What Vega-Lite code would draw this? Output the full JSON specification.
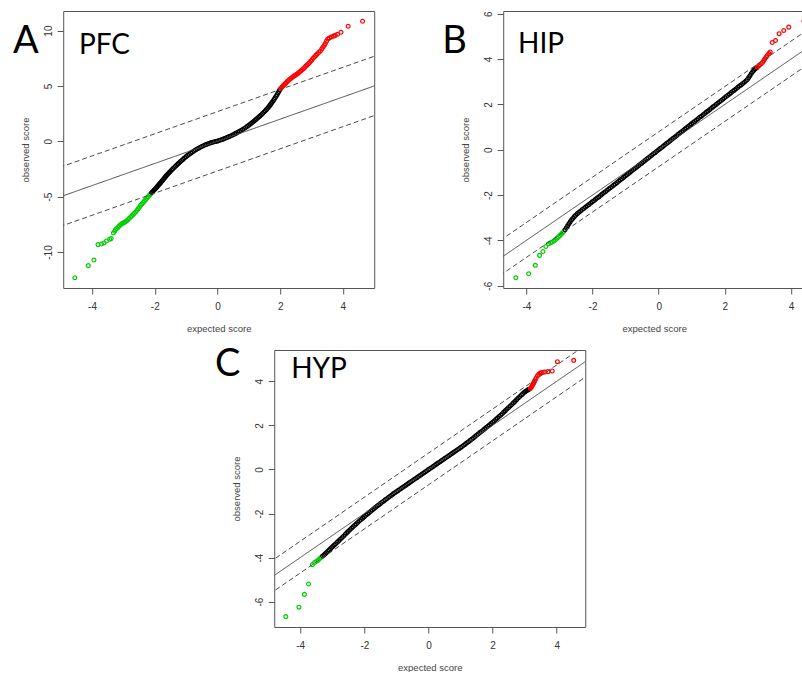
{
  "$schema": "https://vega.github.io/schema/vega-lite/v6.json",
  "background": "white",
  "padding": {"left": 12, "top": 10, "right": 0, "bottom": 0},
  "spacing": 16,
  "center": true,
  "title": {"text": "C", "anchor": "start", "frame": "group", "orient": "top", "offset": 0, "baseline": "alphabetic", "align": "left", "dx": 152, "dy": 404, "font": "Lato", "fontSize": 38, "fontWeight": "normal", "color": "#000000"},
  "datasets": {
    "pfc_lines": [
      {"expected": -6, "observed": -6, "line": "fit"}, {"expected": 6, "observed": 6, "line": "fit"},
      {"expected": -6, "observed": -3.32, "line": "upper"}, {"expected": 6, "observed": 8.68, "line": "upper"},
      {"expected": -6, "observed": -8.68, "line": "lower"}, {"expected": 6, "observed": 3.32, "line": "lower"}
    ],
    "hip_lines": [
      {"expected": -6, "observed": -6, "line": "fit"}, {"expected": 6, "observed": 6, "line": "fit"},
      {"expected": -6, "observed": -5.21, "line": "upper"}, {"expected": 6, "observed": 6.79, "line": "upper"},
      {"expected": -6, "observed": -6.75, "line": "lower"}, {"expected": 6, "observed": 5.25, "line": "lower"}
    ],
    "hyp_lines": [
      {"expected": -6, "observed": -6, "line": "fit"}, {"expected": 6, "observed": 6, "line": "fit"},
      {"expected": -6, "observed": -5.26, "line": "upper"}, {"expected": 6, "observed": 6.74, "line": "upper"},
      {"expected": -6, "observed": -6.7, "line": "lower"}, {"expected": 6, "observed": 5.3, "line": "lower"}
    ],
    "pfc_points": [
      {"expected": -4.55, "observed": -12.32, "tail": "low"},
      {"expected": -4.12, "observed": -11.23, "tail": "low"},
      {"expected": -3.94, "observed": -10.72, "tail": "low"},
      {"expected": -3.81, "observed": -9.33, "tail": "low"},
      {"expected": -3.70, "observed": -9.28, "tail": "low"},
      {"expected": -3.62, "observed": -9.18, "tail": "low"},
      {"expected": -3.54, "observed": -9.00, "tail": "low"},
      {"expected": -3.44, "observed": -8.85, "tail": "low"},
      {"expected": -3.39, "observed": -8.79, "tail": "low"},
      {"expected": -3.32, "observed": -8.28, "tail": "low"},
      {"expected": -3.28, "observed": -8.12, "tail": "low"},
      {"expected": -3.25, "observed": -7.98, "tail": "low"},
      {"expected": -3.21, "observed": -7.87, "tail": "low"},
      {"expected": -3.17, "observed": -7.76, "tail": "low"},
      {"expected": -3.13, "observed": -7.64, "tail": "low"},
      {"expected": -3.09, "observed": -7.53, "tail": "low"},
      {"expected": -3.05, "observed": -7.45, "tail": "low"},
      {"expected": -3.01, "observed": -7.38, "tail": "low"},
      {"expected": -2.97, "observed": -7.32, "tail": "low"},
      {"expected": -2.93, "observed": -7.27, "tail": "low"},
      {"expected": -2.89, "observed": -7.17, "tail": "low"},
      {"expected": -2.85, "observed": -7.06, "tail": "low"},
      {"expected": -2.81, "observed": -6.95, "tail": "low"},
      {"expected": -2.77, "observed": -6.84, "tail": "low"},
      {"expected": -2.73, "observed": -6.72, "tail": "low"},
      {"expected": -2.69, "observed": -6.61, "tail": "low"},
      {"expected": -2.65, "observed": -6.50, "tail": "low"},
      {"expected": -2.61, "observed": -6.39, "tail": "low"},
      {"expected": -2.57, "observed": -6.25, "tail": "low"},
      {"expected": -2.53, "observed": -6.10, "tail": "low"},
      {"expected": -2.49, "observed": -5.95, "tail": "low"},
      {"expected": -2.45, "observed": -5.79, "tail": "low"},
      {"expected": -2.41, "observed": -5.66, "tail": "low"},
      {"expected": -2.37, "observed": -5.53, "tail": "low"},
      {"expected": -2.33, "observed": -5.40, "tail": "low"},
      {"expected": -2.29, "observed": -5.27, "tail": "low"},
      {"expected": -2.25, "observed": -5.13, "tail": "low"},
      {"expected": -2.21, "observed": -5.00, "tail": "low"},
      {"expected": -2.17, "observed": -4.87, "tail": "low"},
      {"expected": -2.14, "observed": -4.77, "tail": "low"},
      {"expected": -2.10, "observed": -4.65, "tail": "mid"},
      {"expected": -2.07, "observed": -4.55, "tail": "mid"},
      {"expected": -2.04, "observed": -4.46, "tail": "mid"},
      {"expected": -2.01, "observed": -4.38, "tail": "mid"},
      {"expected": -1.98, "observed": -4.28, "tail": "mid"},
      {"expected": -1.95, "observed": -4.19, "tail": "mid"},
      {"expected": -1.92, "observed": -4.09, "tail": "mid"},
      {"expected": -1.89, "observed": -3.99, "tail": "mid"},
      {"expected": -1.86, "observed": -3.89, "tail": "mid"},
      {"expected": -1.83, "observed": -3.80, "tail": "mid"},
      {"expected": -1.80, "observed": -3.70, "tail": "mid"},
      {"expected": -1.77, "observed": -3.59, "tail": "mid"},
      {"expected": -1.74, "observed": -3.49, "tail": "mid"},
      {"expected": -1.71, "observed": -3.38, "tail": "mid"},
      {"expected": -1.68, "observed": -3.28, "tail": "mid"},
      {"expected": -1.65, "observed": -3.17, "tail": "mid"},
      {"expected": -1.62, "observed": -3.07, "tail": "mid"},
      {"expected": -1.59, "observed": -2.98, "tail": "mid"},
      {"expected": -1.56, "observed": -2.89, "tail": "mid"},
      {"expected": -1.53, "observed": -2.80, "tail": "mid"},
      {"expected": -1.50, "observed": -2.71, "tail": "mid"},
      {"expected": -1.46, "observed": -2.59, "tail": "mid"},
      {"expected": -1.42, "observed": -2.47, "tail": "mid"},
      {"expected": -1.38, "observed": -2.36, "tail": "mid"},
      {"expected": -1.34, "observed": -2.26, "tail": "mid"},
      {"expected": -1.30, "observed": -2.15, "tail": "mid"},
      {"expected": -1.26, "observed": -2.04, "tail": "mid"},
      {"expected": -1.22, "observed": -1.93, "tail": "mid"},
      {"expected": -1.18, "observed": -1.83, "tail": "mid"},
      {"expected": -1.14, "observed": -1.73, "tail": "mid"},
      {"expected": -1.10, "observed": -1.63, "tail": "mid"},
      {"expected": -1.05, "observed": -1.50, "tail": "mid"},
      {"expected": -1.00, "observed": -1.38, "tail": "mid"},
      {"expected": -0.95, "observed": -1.27, "tail": "mid"},
      {"expected": -0.90, "observed": -1.17, "tail": "mid"},
      {"expected": -0.85, "observed": -1.07, "tail": "mid"},
      {"expected": -0.80, "observed": -0.97, "tail": "mid"},
      {"expected": -0.75, "observed": -0.88, "tail": "mid"},
      {"expected": -0.70, "observed": -0.79, "tail": "mid"},
      {"expected": -0.65, "observed": -0.70, "tail": "mid"},
      {"expected": -0.60, "observed": -0.62, "tail": "mid"},
      {"expected": -0.55, "observed": -0.54, "tail": "mid"},
      {"expected": -0.50, "observed": -0.47, "tail": "mid"},
      {"expected": -0.45, "observed": -0.40, "tail": "mid"},
      {"expected": -0.40, "observed": -0.33, "tail": "mid"},
      {"expected": -0.35, "observed": -0.28, "tail": "mid"},
      {"expected": -0.30, "observed": -0.22, "tail": "mid"},
      {"expected": -0.25, "observed": -0.17, "tail": "mid"},
      {"expected": -0.20, "observed": -0.12, "tail": "mid"},
      {"expected": -0.15, "observed": -0.08, "tail": "mid"},
      {"expected": -0.10, "observed": -0.04, "tail": "mid"},
      {"expected": -0.05, "observed": -0.01, "tail": "mid"},
      {"expected": 0.00, "observed": 0.02, "tail": "mid"},
      {"expected": 0.05, "observed": 0.07, "tail": "mid"},
      {"expected": 0.10, "observed": 0.12, "tail": "mid"},
      {"expected": 0.15, "observed": 0.17, "tail": "mid"},
      {"expected": 0.20, "observed": 0.22, "tail": "mid"},
      {"expected": 0.25, "observed": 0.28, "tail": "mid"},
      {"expected": 0.30, "observed": 0.34, "tail": "mid"},
      {"expected": 0.35, "observed": 0.40, "tail": "mid"},
      {"expected": 0.40, "observed": 0.46, "tail": "mid"},
      {"expected": 0.45, "observed": 0.53, "tail": "mid"},
      {"expected": 0.50, "observed": 0.60, "tail": "mid"},
      {"expected": 0.55, "observed": 0.67, "tail": "mid"},
      {"expected": 0.60, "observed": 0.74, "tail": "mid"},
      {"expected": 0.65, "observed": 0.82, "tail": "mid"},
      {"expected": 0.70, "observed": 0.90, "tail": "mid"},
      {"expected": 0.75, "observed": 0.98, "tail": "mid"},
      {"expected": 0.80, "observed": 1.06, "tail": "mid"},
      {"expected": 0.85, "observed": 1.15, "tail": "mid"},
      {"expected": 0.90, "observed": 1.25, "tail": "mid"},
      {"expected": 0.95, "observed": 1.35, "tail": "mid"},
      {"expected": 1.00, "observed": 1.45, "tail": "mid"},
      {"expected": 1.04, "observed": 1.54, "tail": "mid"},
      {"expected": 1.08, "observed": 1.63, "tail": "mid"},
      {"expected": 1.12, "observed": 1.72, "tail": "mid"},
      {"expected": 1.16, "observed": 1.81, "tail": "mid"},
      {"expected": 1.20, "observed": 1.90, "tail": "mid"},
      {"expected": 1.24, "observed": 2.00, "tail": "mid"},
      {"expected": 1.28, "observed": 2.10, "tail": "mid"},
      {"expected": 1.32, "observed": 2.20, "tail": "mid"},
      {"expected": 1.36, "observed": 2.30, "tail": "mid"},
      {"expected": 1.40, "observed": 2.40, "tail": "mid"},
      {"expected": 1.44, "observed": 2.51, "tail": "mid"},
      {"expected": 1.48, "observed": 2.62, "tail": "mid"},
      {"expected": 1.52, "observed": 2.74, "tail": "mid"},
      {"expected": 1.56, "observed": 2.86, "tail": "mid"},
      {"expected": 1.60, "observed": 2.98, "tail": "mid"},
      {"expected": 1.63, "observed": 3.09, "tail": "mid"},
      {"expected": 1.66, "observed": 3.20, "tail": "mid"},
      {"expected": 1.69, "observed": 3.31, "tail": "mid"},
      {"expected": 1.72, "observed": 3.43, "tail": "mid"},
      {"expected": 1.75, "observed": 3.55, "tail": "mid"},
      {"expected": 1.78, "observed": 3.67, "tail": "mid"},
      {"expected": 1.81, "observed": 3.80, "tail": "mid"},
      {"expected": 1.84, "observed": 3.93, "tail": "mid"},
      {"expected": 1.87, "observed": 4.07, "tail": "mid"},
      {"expected": 1.90, "observed": 4.21, "tail": "mid"},
      {"expected": 1.93, "observed": 4.36, "tail": "mid"},
      {"expected": 1.96, "observed": 4.51, "tail": "mid"},
      {"expected": 1.99, "observed": 4.66, "tail": "mid"},
      {"expected": 2.02, "observed": 4.78, "tail": "high"},
      {"expected": 2.05, "observed": 4.88, "tail": "high"},
      {"expected": 2.08, "observed": 4.97, "tail": "high"},
      {"expected": 2.11, "observed": 5.06, "tail": "high"},
      {"expected": 2.14, "observed": 5.14, "tail": "high"},
      {"expected": 2.17, "observed": 5.22, "tail": "high"},
      {"expected": 2.20, "observed": 5.31, "tail": "high"},
      {"expected": 2.23, "observed": 5.40, "tail": "high"},
      {"expected": 2.26, "observed": 5.49, "tail": "high"},
      {"expected": 2.30, "observed": 5.58, "tail": "high"},
      {"expected": 2.34, "observed": 5.67, "tail": "high"},
      {"expected": 2.38, "observed": 5.76, "tail": "high"},
      {"expected": 2.42, "observed": 5.85, "tail": "high"},
      {"expected": 2.46, "observed": 5.93, "tail": "high"},
      {"expected": 2.50, "observed": 6.00, "tail": "high"},
      {"expected": 2.54, "observed": 6.08, "tail": "high"},
      {"expected": 2.58, "observed": 6.16, "tail": "high"},
      {"expected": 2.62, "observed": 6.26, "tail": "high"},
      {"expected": 2.66, "observed": 6.36, "tail": "high"},
      {"expected": 2.70, "observed": 6.46, "tail": "high"},
      {"expected": 2.74, "observed": 6.56, "tail": "high"},
      {"expected": 2.78, "observed": 6.67, "tail": "high"},
      {"expected": 2.82, "observed": 6.79, "tail": "high"},
      {"expected": 2.86, "observed": 6.90, "tail": "high"},
      {"expected": 2.90, "observed": 7.01, "tail": "high"},
      {"expected": 2.94, "observed": 7.12, "tail": "high"},
      {"expected": 2.98, "observed": 7.25, "tail": "high"},
      {"expected": 3.02, "observed": 7.38, "tail": "high"},
      {"expected": 3.06, "observed": 7.52, "tail": "high"},
      {"expected": 3.10, "observed": 7.64, "tail": "high"},
      {"expected": 3.14, "observed": 7.76, "tail": "high"},
      {"expected": 3.18, "observed": 7.88, "tail": "high"},
      {"expected": 3.23, "observed": 8.02, "tail": "high"},
      {"expected": 3.28, "observed": 8.16, "tail": "high"},
      {"expected": 3.33, "observed": 8.35, "tail": "high"},
      {"expected": 3.37, "observed": 8.52, "tail": "high"},
      {"expected": 3.41, "observed": 8.68, "tail": "high"},
      {"expected": 3.44, "observed": 8.84, "tail": "high"},
      {"expected": 3.48, "observed": 9.05, "tail": "high"},
      {"expected": 3.52, "observed": 9.24, "tail": "high"},
      {"expected": 3.57, "observed": 9.33, "tail": "high"},
      {"expected": 3.63, "observed": 9.42, "tail": "high"},
      {"expected": 3.70, "observed": 9.50, "tail": "high"},
      {"expected": 3.76, "observed": 9.57, "tail": "high"},
      {"expected": 3.83, "observed": 9.67, "tail": "high"},
      {"expected": 3.94, "observed": 9.85, "tail": "high"},
      {"expected": 4.17, "observed": 10.39, "tail": "high"},
      {"expected": 4.63, "observed": 10.84, "tail": "high"}
    ],
    "hip_points": [
      {"expected": -4.32, "observed": -5.65, "tail": "low"},
      {"expected": -3.93, "observed": -5.47, "tail": "low"},
      {"expected": -3.73, "observed": -5.10, "tail": "low"},
      {"expected": -3.60, "observed": -4.66, "tail": "low"},
      {"expected": -3.50, "observed": -4.49, "tail": "low"},
      {"expected": -3.41, "observed": -4.27, "tail": "low"},
      {"expected": -3.33, "observed": -4.15, "tail": "low"},
      {"expected": -3.27, "observed": -4.10, "tail": "low"},
      {"expected": -3.22, "observed": -4.07, "tail": "low"},
      {"expected": -3.17, "observed": -4.03, "tail": "low"},
      {"expected": -3.12, "observed": -3.97, "tail": "low"},
      {"expected": -3.07, "observed": -3.90, "tail": "low"},
      {"expected": -3.03, "observed": -3.85, "tail": "low"},
      {"expected": -2.99, "observed": -3.79, "tail": "low"},
      {"expected": -2.95, "observed": -3.73, "tail": "low"},
      {"expected": -2.91, "observed": -3.67, "tail": "low"},
      {"expected": -2.87, "observed": -3.61, "tail": "low"},
      {"expected": -2.83, "observed": -3.53, "tail": "mid"},
      {"expected": -2.79, "observed": -3.44, "tail": "mid"},
      {"expected": -2.75, "observed": -3.35, "tail": "mid"},
      {"expected": -2.71, "observed": -3.26, "tail": "mid"},
      {"expected": -2.67, "observed": -3.17, "tail": "mid"},
      {"expected": -2.63, "observed": -3.09, "tail": "mid"},
      {"expected": -2.59, "observed": -3.02, "tail": "mid"},
      {"expected": -2.55, "observed": -2.95, "tail": "mid"},
      {"expected": -2.51, "observed": -2.89, "tail": "mid"},
      {"expected": -2.46, "observed": -2.82, "tail": "mid"},
      {"expected": -2.41, "observed": -2.76, "tail": "mid"},
      {"expected": -2.36, "observed": -2.70, "tail": "mid"},
      {"expected": -2.31, "observed": -2.64, "tail": "mid"},
      {"expected": -2.26, "observed": -2.59, "tail": "mid"},
      {"expected": -2.21, "observed": -2.53, "tail": "mid"},
      {"expected": -2.16, "observed": -2.47, "tail": "mid"},
      {"expected": -2.11, "observed": -2.42, "tail": "mid"},
      {"expected": -2.06, "observed": -2.36, "tail": "mid"},
      {"expected": -2.01, "observed": -2.30, "tail": "mid"},
      {"expected": -1.96, "observed": -2.25, "tail": "mid"},
      {"expected": -1.91, "observed": -2.19, "tail": "mid"},
      {"expected": -1.86, "observed": -2.13, "tail": "mid"},
      {"expected": -1.81, "observed": -2.08, "tail": "mid"},
      {"expected": -1.76, "observed": -2.02, "tail": "mid"},
      {"expected": -1.71, "observed": -1.96, "tail": "mid"},
      {"expected": -1.66, "observed": -1.90, "tail": "mid"},
      {"expected": -1.61, "observed": -1.85, "tail": "mid"},
      {"expected": -1.56, "observed": -1.79, "tail": "mid"},
      {"expected": -1.51, "observed": -1.73, "tail": "mid"},
      {"expected": -1.46, "observed": -1.68, "tail": "mid"},
      {"expected": -1.41, "observed": -1.62, "tail": "mid"},
      {"expected": -1.36, "observed": -1.56, "tail": "mid"},
      {"expected": -1.31, "observed": -1.51, "tail": "mid"},
      {"expected": -1.26, "observed": -1.45, "tail": "mid"},
      {"expected": -1.21, "observed": -1.39, "tail": "mid"},
      {"expected": -1.16, "observed": -1.33, "tail": "mid"},
      {"expected": -1.11, "observed": -1.28, "tail": "mid"},
      {"expected": -1.06, "observed": -1.22, "tail": "mid"},
      {"expected": -1.01, "observed": -1.16, "tail": "mid"},
      {"expected": -0.96, "observed": -1.10, "tail": "mid"},
      {"expected": -0.91, "observed": -1.05, "tail": "mid"},
      {"expected": -0.86, "observed": -0.99, "tail": "mid"},
      {"expected": -0.81, "observed": -0.93, "tail": "mid"},
      {"expected": -0.76, "observed": -0.87, "tail": "mid"},
      {"expected": -0.71, "observed": -0.82, "tail": "mid"},
      {"expected": -0.66, "observed": -0.76, "tail": "mid"},
      {"expected": -0.61, "observed": -0.70, "tail": "mid"},
      {"expected": -0.56, "observed": -0.64, "tail": "mid"},
      {"expected": -0.51, "observed": -0.59, "tail": "mid"},
      {"expected": -0.46, "observed": -0.53, "tail": "mid"},
      {"expected": -0.41, "observed": -0.47, "tail": "mid"},
      {"expected": -0.36, "observed": -0.41, "tail": "mid"},
      {"expected": -0.31, "observed": -0.36, "tail": "mid"},
      {"expected": -0.26, "observed": -0.30, "tail": "mid"},
      {"expected": -0.21, "observed": -0.24, "tail": "mid"},
      {"expected": -0.16, "observed": -0.18, "tail": "mid"},
      {"expected": -0.11, "observed": -0.13, "tail": "mid"},
      {"expected": -0.06, "observed": -0.07, "tail": "mid"},
      {"expected": -0.01, "observed": -0.01, "tail": "mid"},
      {"expected": 0.04, "observed": 0.05, "tail": "mid"},
      {"expected": 0.09, "observed": 0.10, "tail": "mid"},
      {"expected": 0.14, "observed": 0.16, "tail": "mid"},
      {"expected": 0.19, "observed": 0.22, "tail": "mid"},
      {"expected": 0.24, "observed": 0.28, "tail": "mid"},
      {"expected": 0.29, "observed": 0.33, "tail": "mid"},
      {"expected": 0.34, "observed": 0.39, "tail": "mid"},
      {"expected": 0.39, "observed": 0.45, "tail": "mid"},
      {"expected": 0.44, "observed": 0.51, "tail": "mid"},
      {"expected": 0.49, "observed": 0.56, "tail": "mid"},
      {"expected": 0.54, "observed": 0.62, "tail": "mid"},
      {"expected": 0.59, "observed": 0.68, "tail": "mid"},
      {"expected": 0.64, "observed": 0.74, "tail": "mid"},
      {"expected": 0.69, "observed": 0.79, "tail": "mid"},
      {"expected": 0.74, "observed": 0.85, "tail": "mid"},
      {"expected": 0.79, "observed": 0.91, "tail": "mid"},
      {"expected": 0.84, "observed": 0.97, "tail": "mid"},
      {"expected": 0.89, "observed": 1.02, "tail": "mid"},
      {"expected": 0.94, "observed": 1.08, "tail": "mid"},
      {"expected": 0.99, "observed": 1.14, "tail": "mid"},
      {"expected": 1.04, "observed": 1.20, "tail": "mid"},
      {"expected": 1.09, "observed": 1.25, "tail": "mid"},
      {"expected": 1.14, "observed": 1.31, "tail": "mid"},
      {"expected": 1.19, "observed": 1.37, "tail": "mid"},
      {"expected": 1.24, "observed": 1.43, "tail": "mid"},
      {"expected": 1.29, "observed": 1.48, "tail": "mid"},
      {"expected": 1.34, "observed": 1.54, "tail": "mid"},
      {"expected": 1.39, "observed": 1.60, "tail": "mid"},
      {"expected": 1.44, "observed": 1.66, "tail": "mid"},
      {"expected": 1.49, "observed": 1.71, "tail": "mid"},
      {"expected": 1.54, "observed": 1.77, "tail": "mid"},
      {"expected": 1.59, "observed": 1.83, "tail": "mid"},
      {"expected": 1.64, "observed": 1.89, "tail": "mid"},
      {"expected": 1.69, "observed": 1.94, "tail": "mid"},
      {"expected": 1.74, "observed": 2.00, "tail": "mid"},
      {"expected": 1.79, "observed": 2.06, "tail": "mid"},
      {"expected": 1.84, "observed": 2.12, "tail": "mid"},
      {"expected": 1.89, "observed": 2.17, "tail": "mid"},
      {"expected": 1.94, "observed": 2.23, "tail": "mid"},
      {"expected": 1.99, "observed": 2.29, "tail": "mid"},
      {"expected": 2.04, "observed": 2.35, "tail": "mid"},
      {"expected": 2.09, "observed": 2.40, "tail": "mid"},
      {"expected": 2.14, "observed": 2.46, "tail": "mid"},
      {"expected": 2.19, "observed": 2.52, "tail": "mid"},
      {"expected": 2.24, "observed": 2.58, "tail": "mid"},
      {"expected": 2.29, "observed": 2.63, "tail": "mid"},
      {"expected": 2.34, "observed": 2.69, "tail": "mid"},
      {"expected": 2.39, "observed": 2.75, "tail": "mid"},
      {"expected": 2.44, "observed": 2.81, "tail": "mid"},
      {"expected": 2.49, "observed": 2.86, "tail": "mid"},
      {"expected": 2.54, "observed": 2.92, "tail": "mid"},
      {"expected": 2.59, "observed": 2.98, "tail": "mid"},
      {"expected": 2.64, "observed": 3.04, "tail": "mid"},
      {"expected": 2.68, "observed": 3.10, "tail": "mid"},
      {"expected": 2.72, "observed": 3.18, "tail": "mid"},
      {"expected": 2.76, "observed": 3.27, "tail": "mid"},
      {"expected": 2.80, "observed": 3.36, "tail": "mid"},
      {"expected": 2.84, "observed": 3.44, "tail": "mid"},
      {"expected": 2.88, "observed": 3.51, "tail": "mid"},
      {"expected": 2.92, "observed": 3.57, "tail": "mid"},
      {"expected": 2.95, "observed": 3.61, "tail": "mid"},
      {"expected": 2.98, "observed": 3.64, "tail": "high"},
      {"expected": 3.02, "observed": 3.70, "tail": "high"},
      {"expected": 3.06, "observed": 3.75, "tail": "high"},
      {"expected": 3.10, "observed": 3.80, "tail": "high"},
      {"expected": 3.14, "observed": 3.86, "tail": "high"},
      {"expected": 3.18, "observed": 3.94, "tail": "high"},
      {"expected": 3.21, "observed": 4.01, "tail": "high"},
      {"expected": 3.25, "observed": 4.09, "tail": "high"},
      {"expected": 3.28, "observed": 4.16, "tail": "high"},
      {"expected": 3.33, "observed": 4.24, "tail": "high"},
      {"expected": 3.37, "observed": 4.31, "tail": "high"},
      {"expected": 3.43, "observed": 4.73, "tail": "high"},
      {"expected": 3.53, "observed": 4.82, "tail": "high"},
      {"expected": 3.64, "observed": 5.12, "tail": "high"},
      {"expected": 3.78, "observed": 5.26, "tail": "high"},
      {"expected": 3.93, "observed": 5.41, "tail": "high"},
      {"expected": 4.39, "observed": 5.67, "tail": "high"}
    ],
    "hyp_points": [
      {"expected": -4.45, "observed": -6.68, "tail": "low"},
      {"expected": -4.04, "observed": -6.25, "tail": "low"},
      {"expected": -3.87, "observed": -5.67, "tail": "low"},
      {"expected": -3.74, "observed": -5.20, "tail": "low"},
      {"expected": -3.62, "observed": -4.32, "tail": "low"},
      {"expected": -3.55, "observed": -4.22, "tail": "low"},
      {"expected": -3.49, "observed": -4.17, "tail": "low"},
      {"expected": -3.44, "observed": -4.12, "tail": "low"},
      {"expected": -3.39, "observed": -4.04, "tail": "low"},
      {"expected": -3.34, "observed": -3.98, "tail": "low"},
      {"expected": -3.30, "observed": -3.93, "tail": "mid"},
      {"expected": -3.26, "observed": -3.88, "tail": "mid"},
      {"expected": -3.22, "observed": -3.83, "tail": "mid"},
      {"expected": -3.18, "observed": -3.77, "tail": "mid"},
      {"expected": -3.14, "observed": -3.71, "tail": "mid"},
      {"expected": -3.10, "observed": -3.66, "tail": "mid"},
      {"expected": -3.06, "observed": -3.60, "tail": "mid"},
      {"expected": -3.02, "observed": -3.54, "tail": "mid"},
      {"expected": -2.98, "observed": -3.49, "tail": "mid"},
      {"expected": -2.94, "observed": -3.43, "tail": "mid"},
      {"expected": -2.90, "observed": -3.38, "tail": "mid"},
      {"expected": -2.85, "observed": -3.31, "tail": "mid"},
      {"expected": -2.80, "observed": -3.24, "tail": "mid"},
      {"expected": -2.75, "observed": -3.17, "tail": "mid"},
      {"expected": -2.70, "observed": -3.10, "tail": "mid"},
      {"expected": -2.65, "observed": -3.03, "tail": "mid"},
      {"expected": -2.60, "observed": -2.95, "tail": "mid"},
      {"expected": -2.55, "observed": -2.88, "tail": "mid"},
      {"expected": -2.50, "observed": -2.81, "tail": "mid"},
      {"expected": -2.45, "observed": -2.74, "tail": "mid"},
      {"expected": -2.40, "observed": -2.67, "tail": "mid"},
      {"expected": -2.35, "observed": -2.60, "tail": "mid"},
      {"expected": -2.30, "observed": -2.53, "tail": "mid"},
      {"expected": -2.25, "observed": -2.47, "tail": "mid"},
      {"expected": -2.20, "observed": -2.40, "tail": "mid"},
      {"expected": -2.15, "observed": -2.33, "tail": "mid"},
      {"expected": -2.10, "observed": -2.27, "tail": "mid"},
      {"expected": -2.05, "observed": -2.21, "tail": "mid"},
      {"expected": -2.00, "observed": -2.14, "tail": "mid"},
      {"expected": -1.95, "observed": -2.08, "tail": "mid"},
      {"expected": -1.90, "observed": -2.02, "tail": "mid"},
      {"expected": -1.85, "observed": -1.96, "tail": "mid"},
      {"expected": -1.80, "observed": -1.90, "tail": "mid"},
      {"expected": -1.75, "observed": -1.84, "tail": "mid"},
      {"expected": -1.70, "observed": -1.78, "tail": "mid"},
      {"expected": -1.65, "observed": -1.72, "tail": "mid"},
      {"expected": -1.60, "observed": -1.66, "tail": "mid"},
      {"expected": -1.55, "observed": -1.61, "tail": "mid"},
      {"expected": -1.50, "observed": -1.55, "tail": "mid"},
      {"expected": -1.45, "observed": -1.49, "tail": "mid"},
      {"expected": -1.40, "observed": -1.44, "tail": "mid"},
      {"expected": -1.35, "observed": -1.38, "tail": "mid"},
      {"expected": -1.30, "observed": -1.33, "tail": "mid"},
      {"expected": -1.25, "observed": -1.27, "tail": "mid"},
      {"expected": -1.20, "observed": -1.22, "tail": "mid"},
      {"expected": -1.15, "observed": -1.17, "tail": "mid"},
      {"expected": -1.10, "observed": -1.11, "tail": "mid"},
      {"expected": -1.05, "observed": -1.06, "tail": "mid"},
      {"expected": -1.00, "observed": -1.01, "tail": "mid"},
      {"expected": -0.95, "observed": -0.96, "tail": "mid"},
      {"expected": -0.90, "observed": -0.91, "tail": "mid"},
      {"expected": -0.85, "observed": -0.86, "tail": "mid"},
      {"expected": -0.80, "observed": -0.81, "tail": "mid"},
      {"expected": -0.75, "observed": -0.76, "tail": "mid"},
      {"expected": -0.70, "observed": -0.71, "tail": "mid"},
      {"expected": -0.65, "observed": -0.66, "tail": "mid"},
      {"expected": -0.60, "observed": -0.61, "tail": "mid"},
      {"expected": -0.55, "observed": -0.56, "tail": "mid"},
      {"expected": -0.50, "observed": -0.51, "tail": "mid"},
      {"expected": -0.45, "observed": -0.46, "tail": "mid"},
      {"expected": -0.40, "observed": -0.41, "tail": "mid"},
      {"expected": -0.35, "observed": -0.36, "tail": "mid"},
      {"expected": -0.30, "observed": -0.31, "tail": "mid"},
      {"expected": -0.25, "observed": -0.26, "tail": "mid"},
      {"expected": -0.20, "observed": -0.21, "tail": "mid"},
      {"expected": -0.15, "observed": -0.16, "tail": "mid"},
      {"expected": -0.10, "observed": -0.11, "tail": "mid"},
      {"expected": -0.05, "observed": -0.06, "tail": "mid"},
      {"expected": 0.00, "observed": -0.01, "tail": "mid"},
      {"expected": 0.05, "observed": 0.04, "tail": "mid"},
      {"expected": 0.10, "observed": 0.09, "tail": "mid"},
      {"expected": 0.15, "observed": 0.14, "tail": "mid"},
      {"expected": 0.20, "observed": 0.19, "tail": "mid"},
      {"expected": 0.25, "observed": 0.24, "tail": "mid"},
      {"expected": 0.30, "observed": 0.29, "tail": "mid"},
      {"expected": 0.35, "observed": 0.34, "tail": "mid"},
      {"expected": 0.40, "observed": 0.39, "tail": "mid"},
      {"expected": 0.45, "observed": 0.44, "tail": "mid"},
      {"expected": 0.50, "observed": 0.49, "tail": "mid"},
      {"expected": 0.55, "observed": 0.54, "tail": "mid"},
      {"expected": 0.60, "observed": 0.59, "tail": "mid"},
      {"expected": 0.65, "observed": 0.64, "tail": "mid"},
      {"expected": 0.70, "observed": 0.69, "tail": "mid"},
      {"expected": 0.75, "observed": 0.74, "tail": "mid"},
      {"expected": 0.80, "observed": 0.79, "tail": "mid"},
      {"expected": 0.85, "observed": 0.84, "tail": "mid"},
      {"expected": 0.90, "observed": 0.89, "tail": "mid"},
      {"expected": 0.95, "observed": 0.94, "tail": "mid"},
      {"expected": 1.00, "observed": 0.99, "tail": "mid"},
      {"expected": 1.05, "observed": 1.04, "tail": "mid"},
      {"expected": 1.10, "observed": 1.10, "tail": "mid"},
      {"expected": 1.15, "observed": 1.15, "tail": "mid"},
      {"expected": 1.20, "observed": 1.21, "tail": "mid"},
      {"expected": 1.25, "observed": 1.26, "tail": "mid"},
      {"expected": 1.30, "observed": 1.32, "tail": "mid"},
      {"expected": 1.35, "observed": 1.37, "tail": "mid"},
      {"expected": 1.40, "observed": 1.43, "tail": "mid"},
      {"expected": 1.45, "observed": 1.49, "tail": "mid"},
      {"expected": 1.50, "observed": 1.55, "tail": "mid"},
      {"expected": 1.55, "observed": 1.61, "tail": "mid"},
      {"expected": 1.60, "observed": 1.67, "tail": "mid"},
      {"expected": 1.65, "observed": 1.72, "tail": "mid"},
      {"expected": 1.70, "observed": 1.78, "tail": "mid"},
      {"expected": 1.75, "observed": 1.84, "tail": "mid"},
      {"expected": 1.80, "observed": 1.90, "tail": "mid"},
      {"expected": 1.85, "observed": 1.96, "tail": "mid"},
      {"expected": 1.90, "observed": 2.02, "tail": "mid"},
      {"expected": 1.95, "observed": 2.08, "tail": "mid"},
      {"expected": 2.00, "observed": 2.14, "tail": "mid"},
      {"expected": 2.05, "observed": 2.20, "tail": "mid"},
      {"expected": 2.10, "observed": 2.27, "tail": "mid"},
      {"expected": 2.15, "observed": 2.33, "tail": "mid"},
      {"expected": 2.20, "observed": 2.40, "tail": "mid"},
      {"expected": 2.25, "observed": 2.46, "tail": "mid"},
      {"expected": 2.30, "observed": 2.53, "tail": "mid"},
      {"expected": 2.35, "observed": 2.60, "tail": "mid"},
      {"expected": 2.40, "observed": 2.67, "tail": "mid"},
      {"expected": 2.45, "observed": 2.74, "tail": "mid"},
      {"expected": 2.50, "observed": 2.81, "tail": "mid"},
      {"expected": 2.55, "observed": 2.88, "tail": "mid"},
      {"expected": 2.60, "observed": 2.95, "tail": "mid"},
      {"expected": 2.65, "observed": 3.02, "tail": "mid"},
      {"expected": 2.70, "observed": 3.09, "tail": "mid"},
      {"expected": 2.75, "observed": 3.17, "tail": "mid"},
      {"expected": 2.80, "observed": 3.24, "tail": "mid"},
      {"expected": 2.85, "observed": 3.31, "tail": "mid"},
      {"expected": 2.90, "observed": 3.38, "tail": "mid"},
      {"expected": 2.94, "observed": 3.43, "tail": "mid"},
      {"expected": 2.98, "observed": 3.49, "tail": "mid"},
      {"expected": 3.02, "observed": 3.53, "tail": "mid"},
      {"expected": 3.06, "observed": 3.57, "tail": "mid"},
      {"expected": 3.10, "observed": 3.61, "tail": "mid"},
      {"expected": 3.14, "observed": 3.64, "tail": "mid"},
      {"expected": 3.18, "observed": 3.68, "tail": "high"},
      {"expected": 3.21, "observed": 3.73, "tail": "high"},
      {"expected": 3.23, "observed": 3.79, "tail": "high"},
      {"expected": 3.25, "observed": 3.84, "tail": "high"},
      {"expected": 3.27, "observed": 3.89, "tail": "high"},
      {"expected": 3.29, "observed": 3.95, "tail": "high"},
      {"expected": 3.31, "observed": 4.01, "tail": "high"},
      {"expected": 3.33, "observed": 4.07, "tail": "high"},
      {"expected": 3.36, "observed": 4.15, "tail": "high"},
      {"expected": 3.40, "observed": 4.25, "tail": "high"},
      {"expected": 3.44, "observed": 4.32, "tail": "high"},
      {"expected": 3.48, "observed": 4.37, "tail": "high"},
      {"expected": 3.52, "observed": 4.39, "tail": "high"},
      {"expected": 3.58, "observed": 4.41, "tail": "high"},
      {"expected": 3.63, "observed": 4.42, "tail": "high"},
      {"expected": 3.73, "observed": 4.44, "tail": "high"},
      {"expected": 3.86, "observed": 4.47, "tail": "high"},
      {"expected": 4.02, "observed": 4.89, "tail": "high"},
      {"expected": 4.53, "observed": 4.95, "tail": "high"}
    ],
    "pfc_label": [{"letter": "A", "region": "PFC"}],
    "hip_label": [{"letter": "B", "region": "HIP"}],
    "hyp_label": [{"letter": "C", "region": "HYP"}]
  },
  "vconcat": [
    {
      "spacing": 66,
      "hconcat": [
        {
          "width": 311, "height": 277,
          "layer": [
            {
              "data": {"name": "pfc_points"},
              "mark": {"type": "point", "shape": "circle", "filled": false, "size": 15, "strokeWidth": 1.2, "opacity": 1},
              "encoding": {
                "x": {"field": "expected", "type": "quantitative", "title": "expected score", "scale": {"domain": [-4.92, 5.0], "nice": false, "zero": false}, "axis": {"values": [-4, -2, 0, 2, 4]}},
                "y": {"field": "observed", "type": "quantitative", "title": "observed score", "scale": {"domain": [-13.25, 11.77], "nice": false, "zero": false}, "axis": {"values": [-10, -5, 0, 5, 10]}},
                "color": {"field": "tail", "type": "nominal", "scale": {"domain": ["low", "mid", "high"], "range": ["#00cc00", "#000000", "#ff0000"]}, "legend": null}
              }
            },
            {
              "data": {"name": "pfc_lines"},
              "mark": {"type": "line", "clip": true, "strokeWidth": 1, "color": "#4a4a4a"},
              "encoding": {
                "x": {"field": "expected", "type": "quantitative", "title": "expected score", "scale": {"domain": [-4.92, 5.0], "nice": false, "zero": false}},
                "y": {"field": "observed", "type": "quantitative", "title": "observed score", "scale": {"domain": [-13.25, 11.77], "nice": false, "zero": false}},
                "strokeDash": {"field": "line", "type": "nominal", "scale": {"domain": ["fit", "upper", "lower"], "range": [[1, 0], [5, 3], [5, 3]]}, "legend": null}
              }
            },
            {
              "data": {"name": "pfc_label"},
              "mark": {"type": "text", "font": "Lato", "fontSize": 38, "align": "left", "baseline": "alphabetic", "color": "#000000"},
              "encoding": {"text": {"field": "letter"}, "x": {"datum": -6.52, "type": "quantitative"}, "y": {"datum": 7.99, "type": "quantitative"}}
            },
            {
              "data": {"name": "pfc_label"},
              "mark": {"type": "text", "font": "Lato", "fontSize": 28, "align": "left", "baseline": "alphabetic", "color": "#000000"},
              "encoding": {"text": {"field": "region"}, "x": {"datum": -4.42, "type": "quantitative"}, "y": {"datum": 7.9, "type": "quantitative"}}
            }
          ]
        },
        {
          "width": 302, "height": 277,
          "layer": [
            {
              "data": {"name": "hip_points"},
              "mark": {"type": "point", "shape": "circle", "filled": false, "size": 15, "strokeWidth": 1.2, "opacity": 1},
              "encoding": {
                "x": {"field": "expected", "type": "quantitative", "title": "expected score", "scale": {"domain": [-4.7, 4.428], "nice": false, "zero": false}, "axis": {"values": [-4, -2, 0, 2, 4]}},
                "y": {"field": "observed", "type": "quantitative", "title": "observed score", "scale": {"domain": [-6.1, 6.12], "nice": false, "zero": false}, "axis": {"values": [-6, -4, -2, 0, 2, 4, 6]}},
                "color": {"field": "tail", "type": "nominal", "scale": {"domain": ["low", "mid", "high"], "range": ["#00cc00", "#000000", "#ff0000"]}, "legend": null}
              }
            },
            {
              "data": {"name": "hip_lines"},
              "mark": {"type": "line", "clip": true, "strokeWidth": 1, "color": "#4a4a4a"},
              "encoding": {
                "x": {"field": "expected", "type": "quantitative", "title": "expected score", "scale": {"domain": [-4.7, 4.428], "nice": false, "zero": false}},
                "y": {"field": "observed", "type": "quantitative", "title": "observed score", "scale": {"domain": [-6.1, 6.12], "nice": false, "zero": false}},
                "strokeDash": {"field": "line", "type": "nominal", "scale": {"domain": ["fit", "upper", "lower"], "range": [[1, 0], [5, 3], [5, 3]]}, "legend": null}
              }
            },
            {
              "data": {"name": "hip_label"},
              "mark": {"type": "text", "font": "Lato", "fontSize": 38, "align": "left", "baseline": "alphabetic", "color": "#000000"},
              "encoding": {"text": {"field": "letter"}, "x": {"datum": -6.546, "type": "quantitative"}, "y": {"datum": 4.28, "type": "quantitative"}}
            },
            {
              "data": {"name": "hip_label"},
              "mark": {"type": "text", "font": "Lato", "fontSize": 28, "align": "left", "baseline": "alphabetic", "color": "#000000"},
              "encoding": {"text": {"field": "region"}, "x": {"datum": -4.253, "type": "quantitative"}, "y": {"datum": 4.28, "type": "quantitative"}}
            }
          ]
        }
      ]
    },
    {
      "width": 311, "height": 277,
      "layer": [
        {
          "data": {"name": "hyp_points"},
          "mark": {"type": "point", "shape": "circle", "filled": false, "size": 15, "strokeWidth": 1.2, "opacity": 1},
          "encoding": {
            "x": {"field": "expected", "type": "quantitative", "title": "expected score", "scale": {"domain": [-4.81, 4.89], "nice": false, "zero": false}, "axis": {"values": [-4, -2, 0, 2, 4]}},
            "y": {"field": "observed", "type": "quantitative", "title": "observed score", "scale": {"domain": [-7.15, 5.42], "nice": false, "zero": false}, "axis": {"orient": "left", "values": [-6, -4, -2, 0, 2, 4]}},
            "color": {"field": "tail", "type": "nominal", "scale": {"domain": ["low", "mid", "high"], "range": ["#00cc00", "#000000", "#ff0000"]}, "legend": null}
          }
        },
        {
          "data": {"name": "hyp_lines"},
          "mark": {"type": "line", "clip": true, "strokeWidth": 1, "color": "#4a4a4a"},
          "encoding": {
            "x": {"field": "expected", "type": "quantitative", "title": "expected score", "scale": {"domain": [-4.81, 4.89], "nice": false, "zero": false}},
            "y": {"field": "observed", "type": "quantitative", "scale": {"domain": [-7.15, 5.42], "nice": false, "zero": false}, "axis": {"orient": "right", "domain": false, "ticks": false, "labels": false, "grid": false, "title": null, "minExtent": 12, "maxExtent": 12}},
            "strokeDash": {"field": "line", "type": "nominal", "scale": {"domain": ["fit", "upper", "lower"], "range": [[1, 0], [5, 3], [5, 3]]}, "legend": null}
          }
        },
        {
          "data": {"name": "hyp_label"},
          "mark": {"type": "text", "font": "Lato", "fontSize": 28, "align": "left", "baseline": "alphabetic", "color": "#000000"},
          "encoding": {"text": {"field": "region"}, "x": {"datum": -4.28, "type": "quantitative"}, "y": {"datum": 4.15, "type": "quantitative", "axis": null}}
        }
      ]
    }
  ],
  "config": {
    "view": {"stroke": "#555555", "strokeWidth": 1},
    "axis": {
      "domain": false, "grid": false,
      "tickColor": "#555555", "tickSize": 6, "tickWidth": 1,
      "labelFont": "Liberation Sans", "labelFontSize": 10, "labelColor": "#333333",
      "labelExpr": "'' + datum.value",
      "titleFont": "Liberation Sans", "titleFontSize": 9.5, "titleFontWeight": "normal", "titleColor": "#444444"
    },
    "axisX": {"labelPadding": 7, "titlePadding": 12},
    "axisY": {"labelAngle": -90, "labelAlign": "center", "labelBaseline": "bottom", "labelPadding": 4, "titlePadding": 13}
  }
}
